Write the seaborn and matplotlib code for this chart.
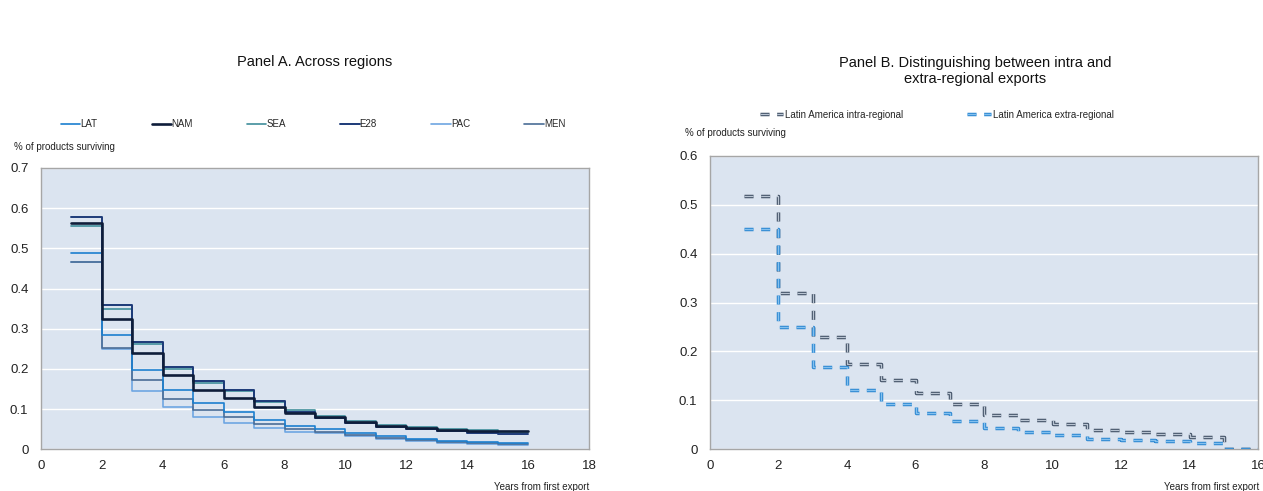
import matplotlib
matplotlib.use("Agg")
import matplotlib.pyplot as plt
import matplotlib.patheffects as pe
from matplotlib import font_manager
import pandas as pd
import seaborn as sns

# Years since first export (step values hold until the next year)
years = list(range(1, 16))
end_year = 16

# Panel A: survival of export products by region
regions = ["LAT", "NAM", "SEA", "E28", "PAC", "MEN"]
lat = [0.488, 0.285, 0.197, 0.147, 0.115, 0.093, 0.073, 0.057, 0.050, 0.040, 0.032, 0.026, 0.021, 0.018, 0.015]
nam = [0.563, 0.325, 0.240, 0.186, 0.148, 0.128, 0.106, 0.090, 0.080, 0.068, 0.058, 0.053, 0.049, 0.046, 0.046]
sea = [0.555, 0.348, 0.263, 0.200, 0.166, 0.146, 0.118, 0.097, 0.083, 0.071, 0.061, 0.055, 0.051, 0.047, 0.044]
e28 = [0.578, 0.359, 0.267, 0.205, 0.170, 0.148, 0.120, 0.093, 0.078, 0.066, 0.056, 0.050, 0.045, 0.041, 0.039]
pac = [0.466, 0.250, 0.145, 0.105, 0.081, 0.065, 0.053, 0.044, 0.040, 0.032, 0.025, 0.020, 0.016, 0.013, 0.011]
men = [0.466, 0.253, 0.173, 0.124, 0.098, 0.080, 0.063, 0.050, 0.043, 0.035, 0.028, 0.022, 0.018, 0.015, 0.012]

# Panel B: Latin America, intra- vs extra-regional destinations
series_b = ["Latin America intra-regional", "Latin America extra-regional"]
intra = [0.518, 0.320, 0.229, 0.175, 0.141, 0.116, 0.093, 0.071, 0.060, 0.052, 0.040, 0.035, 0.031, 0.025, 0.0]
extra = [0.451, 0.249, 0.168, 0.122, 0.093, 0.074, 0.057, 0.044, 0.035, 0.029, 0.022, 0.018, 0.016, 0.012, 0.0]

title_a = "Panel A. Across regions"
title_b = "Panel B. Distinguishing between intra and\nextra-regional exports"
ylabel = "% of products surviving"
xlabel = "Years from first export"


def long_frame(names, values):
    rows = []
    for name, vals in zip(names, values):
        xs = years + [end_year]
        ys = list(vals) + [vals[-1]]
        for x, y in zip(xs, ys):
            rows.append({"series": name, "year": x, "share": y})
    return pd.DataFrame(rows)


df_a = long_frame(regions, [lat, nam, sea, e28, pac, men])
df_b = long_frame(series_b, [intra, extra])

sns.set_style("white")
installed = {f.name for f in font_manager.fontManager.ttflist}
base_font = "Liberation Sans" if "Liberation Sans" in installed else "DejaVu Sans"
narrow_font = "Liberation Sans Narrow" if "Liberation Sans Narrow" in installed else base_font
plt.rcParams["font.family"] = [base_font, "DejaVu Sans"]
plt.rcParams["lines.scale_dashes"] = False
small_font = {"family": [narrow_font, "DejaVu Sans"], "size": 7}

W, H = 1263, 491
fig = plt.figure(figsize=(W / 100, H / 100), dpi=100)

bg = "#dbe4f0"
spine_c = "#a6a6a6"
tick_c = "#222222"

ax_a = fig.add_axes([41 / W, 1 - 449.3 / H, 548 / W, 281.3 / H])
ax_b = fig.add_axes([710 / W, 1 - 449.3 / H, 548 / W, 293.6 / H])

colors_a = {"LAT": "#1b7fcf", "NAM": "#0e1d3a", "SEA": "#3f8e9b",
            "E28": "#1c3a78", "PAC": "#6ea6e2", "MEN": "#4a6d96"}
widths_a = {"LAT": 1.2, "NAM": 1.9, "SEA": 1.2, "E28": 1.4, "PAC": 1.2, "MEN": 1.2}

for name in ["PAC", "MEN", "LAT", "SEA", "E28", "NAM"]:
    sub = df_a[df_a["series"] == name]
    sns.lineplot(data=sub, x="year", y="share", ax=ax_a, color=colors_a[name],
                 linewidth=widths_a[name], drawstyle="steps-post", label=name,
                 zorder=3)

style_b = {
    series_b[0]: ("#b9c4d2", "#3a4a5f"),
    series_b[1]: ("#84c0ee", "#2a86d1"),
}
for name in series_b:
    inner, outer = style_b[name]
    sub = df_b[df_b["series"] == name]
    sns.lineplot(data=sub, x="year", y="share", ax=ax_b, color=inner,
                 linewidth=1.0, drawstyle="steps-post", label=name,
                 linestyle=(0, (6.5, 5.5)), zorder=3,
                 path_effects=[pe.Stroke(linewidth=2.5, foreground=outer), pe.Normal()])


def style_axes(ax, ymax, xmax):
    ax.set_facecolor(bg)
    ax.set_xlim(0, xmax)
    ax.set_ylim(0, ymax)
    ax.set_xticks(range(0, xmax + 1, 2))
    yt = [round(i * 0.1, 1) for i in range(int(round(ymax * 10)) + 1)]
    ax.set_yticks(yt)
    ax.set_yticklabels(["0" if v == 0 else f"{v:.1f}" for v in yt])
    ax.grid(axis="y", color="white", linewidth=1.0, zorder=1)
    ax.grid(axis="x", visible=False)
    ax.set_axisbelow(True)
    for s in ax.spines.values():
        s.set_color(spine_c)
        s.set_linewidth(1.0)
        s.set_visible(True)
    ax.tick_params(axis="x", direction="in", length=4, color=spine_c, width=1,
                   labelsize=9.5, labelcolor=tick_c, pad=8)
    ax.tick_params(axis="y", length=0, labelsize=9.5, labelcolor=tick_c, pad=9)
    ax.set_ylabel("")
    ax.set_xlabel(xlabel, fontdict=small_font, color=tick_c)


style_axes(ax_a, 0.7, 18)
style_axes(ax_b, 0.6, 16)
ax_a.xaxis.set_label_coords(1.0, -0.135)
ax_b.xaxis.set_label_coords(1.003, -0.13)
for ax in (ax_a, ax_b):
    ax.xaxis.label.set_horizontalalignment("right")
    ax.xaxis.label.set_verticalalignment("center")

# Legends above each panel, in series order
handles_a, labels_a = ax_a.get_legend_handles_labels()
lookup = dict(zip(labels_a, handles_a))
leg_a = ax_a.legend([lookup[r] for r in regions], regions, ncol=6, loc="center left",
                    bbox_to_anchor=(0.02, 1.155), frameon=False, handlelength=2.0,
                    handletextpad=0.0, columnspacing=5.6, prop=small_font)
leg_b = ax_b.legend(ncol=2, loc="center left", bbox_to_anchor=(0.075, 1.14),
                    frameon=False, handlelength=2.4, handletextpad=0.2,
                    columnspacing=6.6, prop=small_font)

# Axis titles placed above the plotting areas
fig.text(14 / W, 1 - 147 / H, ylabel, fontdict=small_font,
         ha="left", va="center", color=tick_c)
fig.text(685 / W, 1 - 133 / H, ylabel, fontdict=small_font,
         ha="left", va="center", color=tick_c)

fig.text(315 / W, 1 - 62 / H, title_a, fontsize=10.5, ha="center", va="center", color="#111111")
fig.text(975 / W, 1 - 71 / H, title_b, fontsize=10.5, ha="center", va="center",
         color="#111111", linespacing=1.25)

fig.savefig("out.png", dpi=100, facecolor="white")
